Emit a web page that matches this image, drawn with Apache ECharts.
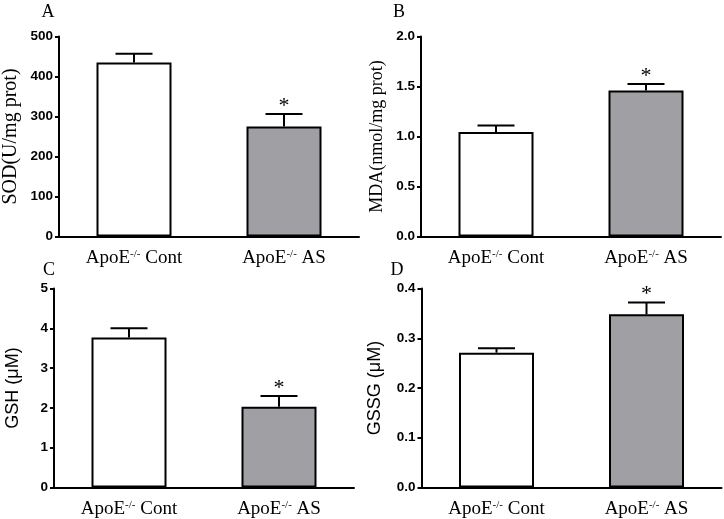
<!DOCTYPE html>
<html>
<head>
<meta charset="utf-8">
<script src="https://cdn.jsdelivr.net/npm/echarts@6/dist/echarts.min.js"></script>
<style>
html,body{margin:0;padding:0;background:#fff;}
#c{width:724px;height:519px;}
</style>
</head>
<body>
<div id="c"></div>
<script>
// ---- data ----
const categories = ['ApoE-/- Cont', 'ApoE-/- AS'];
const panelLetters = ['A', 'B', 'C', 'D'];
const yNames = ['SOD(U/mg prot)', 'MDA(nmol/mg prot)', 'GSH (\u03bcM)', 'GSSG (\u03bcM)'];
const sodMean = [435, 275];
const sodErr = [22, 31];
const mdaMean = [1.045, 1.46];
const mdaErr = [0.065, 0.065];
const gshMean = [3.77, 2.03];
const gshErr = [0.23, 0.27];
const gssgMean = [0.271, 0.348];
const gssgErr = [0.009, 0.024];
const significant = [false, true];
const yMax = [500, 2.0, 5, 0.4];
const yInterval = [100, 0.5, 1, 0.1];

const means = [sodMean, mdaMean, gshMean, gssgMean];
const errs = [sodErr, mdaErr, gshErr, gssgErr];

const SERIF = 'Liberation Serif';
const SANS = 'Liberation Sans';
const grids = [
  {left: 59, top: 36.5, width: 300, height: 200},
  {left: 421, top: 36.5, width: 300, height: 200},
  {left: 54, top: 288.5, width: 300, height: 200},
  {left: 421.5, top: 288.5, width: 300, height: 200}
];
const nameFonts = [
  {fontFamily: SERIF, fontSize: 20, gap: 38},
  {fontFamily: SERIF, fontSize: 18, gap: 35},
  {fontFamily: SANS, fontSize: 18, gap: 32},
  {fontFamily: SANS, fontSize: 18, gap: 37}
];
const barColors = ['#ffffff', '#a0a0a4'];

const xAxis = [], yAxis = [], series = [];
for (let i = 0; i < 4; i++) {
  xAxis.push({
    type: 'category', gridIndex: i, data: categories,
    axisLine: {lineStyle: {color: '#000', width: 2}},
    axisTick: {alignWithLabel: true, length: 5, lineStyle: {color: '#000', width: 2}},
    axisLabel: {
      margin: 12, interval: 0,
      formatter: function (v) {
        const rest = v.replace('ApoE-/-', '');
        return '{a|ApoE}{s|-/-}{a|' + rest + '}';
      },
      rich: {
        a: {fontFamily: SERIF, fontSize: 19, color: '#000', lineHeight: 20},
        s: {fontFamily: SERIF, fontSize: 11, color: '#000', verticalAlign: 'top', lineHeight: 11}
      }
    }
  });
  yAxis.push({
    type: 'value', gridIndex: i, min: 0, max: yMax[i], interval: yInterval[i],
    name: yNames[i], nameLocation: 'middle', nameGap: nameFonts[i].gap,
    nameTextStyle: {fontFamily: nameFonts[i].fontFamily, fontSize: nameFonts[i].fontSize, color: '#000'},
    splitLine: {show: false},
    axisLine: {show: true, lineStyle: {color: '#000', width: 2}},
    axisTick: {show: true, length: 4, lineStyle: {color: '#000', width: 2}},
    axisLabel: {
      margin: 6, fontFamily: SANS, fontWeight: 'bold', fontSize: 13.5, color: '#000',
      formatter: function (v) {
        return (i === 1 || i === 3) ? v.toFixed(1) : String(v);
      }
    }
  });
  series.push({
    type: 'bar', xAxisIndex: i, yAxisIndex: i, barWidth: 75,
    data: means[i].map((m, k) => ({value: m, itemStyle: {color: barColors[k]}})),
    itemStyle: {borderColor: '#000', borderWidth: 2},
    z: 2
  });
  const errData = means[i].map((m, k) => [k, m, errs[i][k], significant[k] ? 1 : 0]);
  series.push({
    type: 'custom', xAxisIndex: i, yAxisIndex: i, z: 3,
    data: errData,
    renderItem: function (params, api) {
      const k = api.value(0);
      const m = api.value(1);
      const e = api.value(2);
      const sig = api.value(3);
      const base = api.coord([k, m]);
      const top = api.coord([k, m + e]);
      const half = 18.5;
      const children = [
        {type: 'line', shape: {x1: base[0], y1: base[1], x2: top[0], y2: top[1]}, style: {stroke: '#000', lineWidth: 2}},
        {type: 'line', shape: {x1: top[0] - half, y1: top[1], x2: top[0] + half, y2: top[1]}, style: {stroke: '#000', lineWidth: 2}}
      ];
      if (sig) {
        children.push({type: 'text', x: top[0], y: top[1] + 3,
          style: {text: '*', fontFamily: SERIF, fontSize: 22, fill: '#000', align: 'center', verticalAlign: 'bottom'}});
      }
      return {type: 'group', children: children};
    }
  });
}

const letterPos = [[48, 12], [399, 12], [49, 270], [397, 270]];
const graphic = panelLetters.map((t, i) => ({
  type: 'text', x: letterPos[i][0], y: letterPos[i][1],
  style: {text: t, fontFamily: SERIF, fontSize: 18, fill: '#000', align: 'center', verticalAlign: 'middle'}
}));

const chart = echarts.init(document.getElementById('c'), null, {renderer: 'canvas'});
chart.setOption({
  animation: false,
  backgroundColor: '#fff',
  grid: grids,
  xAxis: xAxis,
  yAxis: yAxis,
  series: series,
  graphic: graphic
});
</script>
</body>
</html>
